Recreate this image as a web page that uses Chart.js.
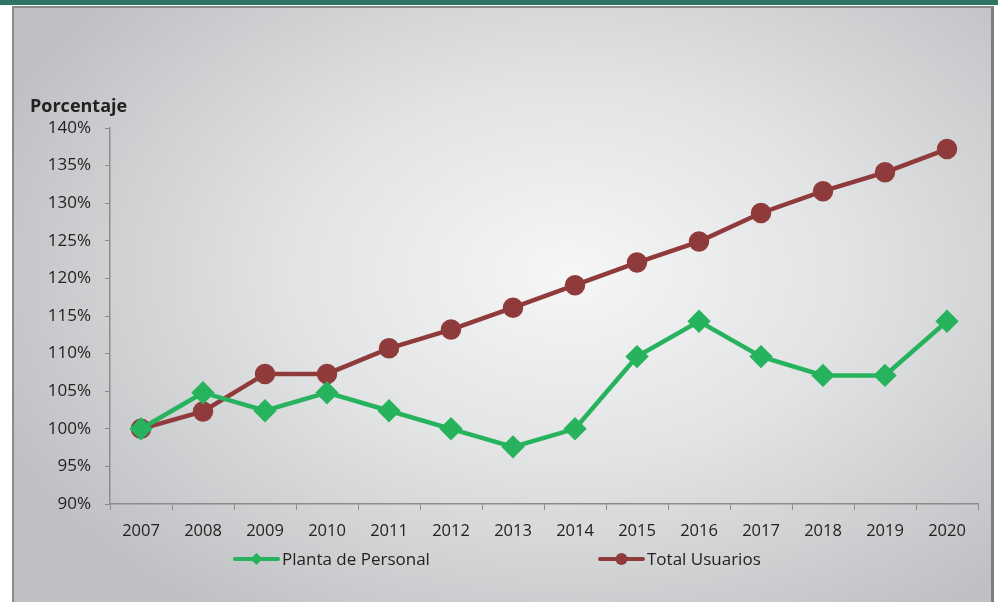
<!DOCTYPE html>
<html>
<head>
<meta charset="utf-8">
<script src="https://cdn.jsdelivr.net/npm/chart.js@4.4.1/dist/chart.umd.min.js"></script>
<style>
  html, body { margin: 0; padding: 0; background: #ffffff; }
  #wrap { position: relative; width: 998px; height: 602px; overflow: hidden; }
  #band { position: absolute; left: 0; top: 0; width: 998px; height: 5px; background: #2e7464; }
  #frame {
    position: absolute; left: 12px; top: 6px; width: 977px; height: 600px;
    border-left: 2px solid #8a8a8a; border-top: 2px solid #8a8a8a; border-right: 3px solid #7d7d7d;
    background: radial-gradient(ellipse 620px 420px at 555px 265px, #f6f6f6 0%, #e2e3e5 45%, #cfd0d2 75%, #bfc0c3 100%);
  }
  canvas { position: absolute; left: 0; top: 0; }
</style>
</head>
<body>
<div id="wrap">
  <div id="band"></div>
  <div id="frame"></div>
  <canvas id="chart" width="998" height="602"></canvas>
</div>
<script>
// Datos
const years = ["2007", "2008", "2009", "2010", "2011", "2012", "2013", "2014", "2015", "2016", "2017", "2018", "2019", "2020"];
const plantaPersonal = [100, 104.8, 102.4, 104.8, 102.4, 100, 97.6, 100, 109.6, 114.3, 109.6, 107.1, 107.1, 114.3];
const totalUsuarios = [100, 102.3, 107.3, 107.3, 110.7, 113.2, 116.1, 119.1, 122.1, 124.9, 128.7, 131.6, 134.1, 137.2];
const seriesNames = ["Planta de Personal", "Total Usuarios"];

const GREEN = "#27b35d";
const RED = "#8f3a3b";
const FONT = "'Open Sans', Lato, sans-serif";

// Titulo del eje y leyenda con linea y marcador
const extras = {
  id: "extras",
  afterDraw(chart) {
    const ctx = chart.ctx;
    ctx.save();
    ctx.fillStyle = "#222";
    ctx.font = "bold 18px " + FONT;
    ctx.textBaseline = "middle";
    ctx.textAlign = "left";
    ctx.fillText("Porcentaje", 30, 107);

    const items = [
      { x: 235, ds: chart.data.datasets[0] },
      { x: 600, ds: chart.data.datasets[1] }
    ];
    const y = 559;
    items.forEach(it => {
      ctx.strokeStyle = it.ds.borderColor;
      ctx.lineWidth = 4;
      ctx.lineCap = "round";
      ctx.beginPath();
      ctx.moveTo(it.x, y);
      ctx.lineTo(it.x + 43, y);
      ctx.stroke();
      ctx.fillStyle = it.ds.borderColor;
      const cx = it.x + 21.5;
      ctx.beginPath();
      if (it.ds.pointStyle === "rectRot") {
        ctx.moveTo(cx, y - 6); ctx.lineTo(cx + 6, y); ctx.lineTo(cx, y + 6); ctx.lineTo(cx - 6, y);
      } else {
        ctx.arc(cx, y, 6, 0, Math.PI * 2);
      }
      ctx.closePath();
      ctx.fill();
      ctx.fillStyle = "#222";
      ctx.font = "17px " + FONT;
      ctx.fillText(it.ds.label, it.x + 47, y + 1);
    });
    ctx.restore();
  }
};

new Chart(document.getElementById("chart").getContext("2d"), {
  type: "line",
  data: {
    labels: years,
    datasets: [
      {
        label: seriesNames[0],
        data: plantaPersonal,
        borderColor: GREEN,
        backgroundColor: GREEN,
        borderWidth: 4.5,
        pointStyle: "rectRot",
        pointRadius: 8.5,
        tension: 0
      },
      {
        label: seriesNames[1],
        data: totalUsuarios,
        borderColor: RED,
        backgroundColor: RED,
        borderWidth: 4.5,
        pointStyle: "circle",
        pointRadius: 8,
        tension: 0
      }
    ]
  },
  options: {
    responsive: false,
    animation: false,
    layout: { padding: { top: 128, right: 20, left: 0, bottom: 0 } },
    plugins: { legend: { display: false }, tooltip: { enabled: false } },
    scales: {
      x: {
        offset: true,
        afterFit: s => { s.height = 98; },
        grid: { drawOnChartArea: false, drawTicks: true, tickLength: 6, tickColor: "#8c8c8c", offset: true },
        border: { color: "#8c8c8c", width: 1.5 },
        ticks: { color: "#222", font: { family: FONT, size: 16.5 }, padding: 11, maxRotation: 0 }
      },
      y: {
        min: 90,
        max: 140,
        afterFit: s => { s.width = 110; },
        grid: { drawOnChartArea: false, drawTicks: true, tickLength: 5, tickColor: "#8c8c8c" },
        border: { color: "#8c8c8c", width: 1.5 },
        ticks: {
          stepSize: 5,
          color: "#222",
          font: { family: FONT, size: 17 },
          padding: 14,
          callback: v => v + "%"
        }
      }
    }
  },
  plugins: [extras]
});
</script>
</body>
</html>
